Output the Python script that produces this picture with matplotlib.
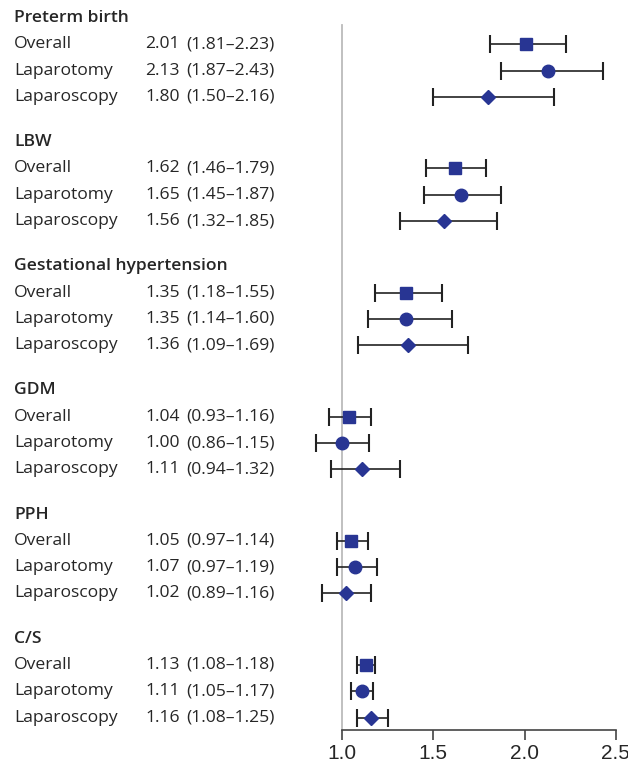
import matplotlib
matplotlib.use("Agg")
import matplotlib.pyplot as plt

groups = ["Preterm birth", "LBW", "Gestational hypertension", "GDM", "PPH", "C/S"]
subgroups = ["Overall", "Laparotomy", "Laparoscopy"]
est = [[2.01, 2.13, 1.80], [1.62, 1.65, 1.56], [1.35, 1.35, 1.36],
       [1.04, 1.00, 1.11], [1.05, 1.07, 1.02], [1.13, 1.11, 1.16]]
lo = [[1.81, 1.87, 1.50], [1.46, 1.45, 1.32], [1.18, 1.14, 1.09],
      [0.93, 0.86, 0.94], [0.97, 0.97, 0.89], [1.08, 1.05, 1.08]]
hi = [[2.23, 2.43, 2.16], [1.79, 1.87, 1.85], [1.55, 1.60, 1.69],
      [1.16, 1.15, 1.32], [1.14, 1.19, 1.16], [1.18, 1.17, 1.25]]
xticks = [1.0, 1.5, 2.0, 2.5]
xticklabels = ["1.0", "1.5", "2.0", "2.5"]

W, H = 628, 765
plt.rcParams['font.family'] = ['Open Sans', 'DejaVu Sans']
fig = plt.figure(figsize=(W / 100, H / 100), dpi=100)

ax_left_px, ax_right_px = 300, 628
ax_top_px, ax_bot_px = 5, 730
ax = fig.add_axes([ax_left_px / W, 1 - ax_bot_px / H,
                   (ax_right_px - ax_left_px) / W, (ax_bot_px - ax_top_px) / H])
scale = 182.5  # px per unit
x0px = 342
ax.set_xlim(1.0 - (x0px - ax_left_px) / scale, 1.0 + (ax_right_px - x0px) / scale)
row_px = 26.3
y0px = 18
ax.set_ylim((ax_bot_px - y0px) / row_px, (ax_top_px - y0px) / row_px)

navy = "#283593"
txt = "#262626"
markers = ["s", "o", "D"]
msizes = [9, 9, 7.5]
period = 4.72
fs = 12.6

for gi, g in enumerate(groups):
    yh = gi * period
    fig.text(14 / W, 1 - (y0px + yh * row_px) / H, g, fontsize=fs, fontweight="semibold",
             va="center", ha="left", color=txt)
    for si, s in enumerate(subgroups):
        y = yh + si + 1
        e, l, h = est[gi][si], lo[gi][si], hi[gi][si]
        ax.errorbar([e], [y], xerr=[[e - l], [h - e]], fmt="none", ecolor="#222222",
                    elinewidth=1.2, capsize=6.5, capthick=1.5, clip_on=False, zorder=2)
        ax.plot([e], [y], marker=markers[si], markersize=msizes[si], color=navy,
                linestyle="none", clip_on=False, zorder=3)
        ypos = 1 - (y0px + y * row_px) / H
        fig.text(14 / W, ypos, s, fontsize=fs, va="center", ha="left", color=txt)
        fig.text(145 / W, ypos, f"{e:.2f}", fontsize=fs, va="center", ha="left", color=txt)
        fig.text(186 / W, ypos, f"({l:.2f}\u2013{h:.2f})", fontsize=fs,
                 va="center", ha="left", color=txt)

ax.axvline(1.0, ymin=0, ymax=1 - (25 - ax_top_px) / (ax_bot_px - ax_top_px),
           color="#bbbbbb", linewidth=1.3, zorder=1)

for sp in ["top", "right", "left"]:
    ax.spines[sp].set_visible(False)
ax.spines["bottom"].set_bounds(1.0, 2.5)
ax.spines["bottom"].set_color("#444444")
ax.spines["bottom"].set_linewidth(1.2)
ax.set_yticks([])
ax.set_xticks(xticks)
ax.set_xticklabels(xticklabels, fontfamily=["Liberation Sans", "DejaVu Sans"])
ax.tick_params(axis="x", length=7, width=1.2, color="#444444", labelsize=15,
               labelcolor=txt, pad=3)

fig.savefig("out.png", dpi=100)
